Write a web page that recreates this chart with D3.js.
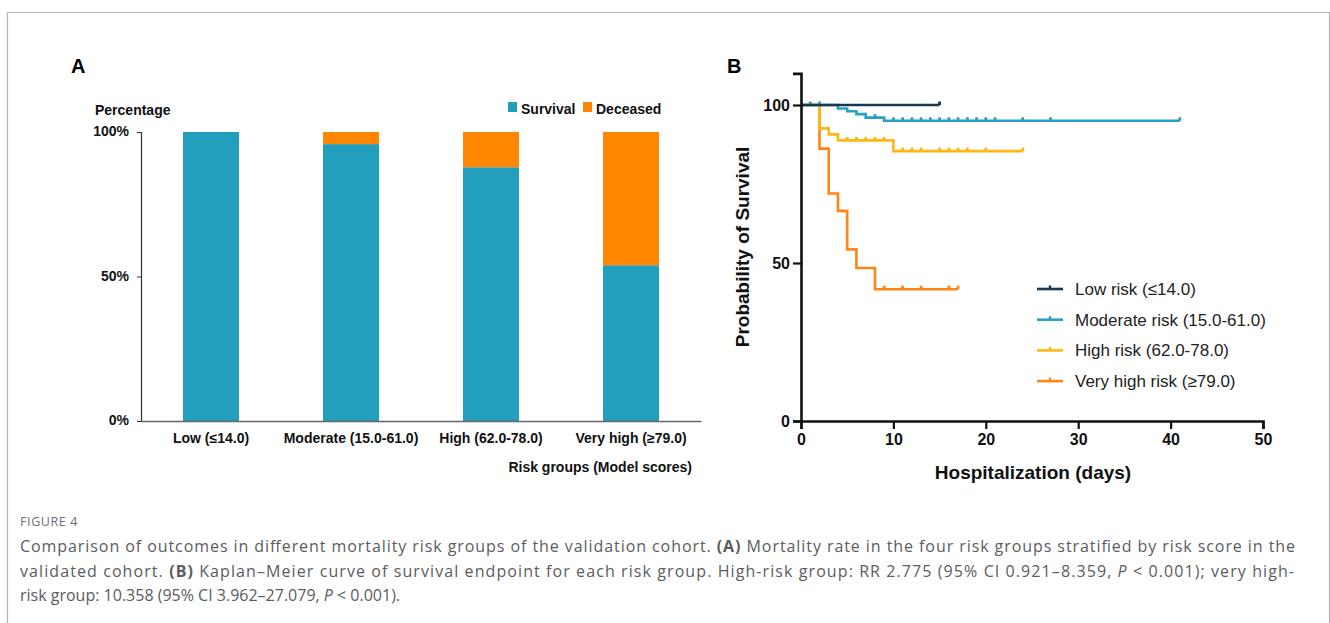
<!DOCTYPE html>
<html>
<head>
<meta charset="utf-8">
<script src="https://cdn.jsdelivr.net/npm/d3@7"></script>
<style>
  html, body { margin: 0; padding: 0; background: #fff; }
  svg { display: block; }
</style>
</head>
<body>
<svg id="fig" width="1330" height="623"></svg>
<script>
// ---- Panel A: outcome share per risk group ----
const groups = ["Low (≤14.0)", "Moderate (15.0-61.0)", "High (62.0-78.0)", "Very high (≥79.0)"];
const survivalPct = [100, 95.8, 87.8, 53.9];
const deceasedPct = [0, 4.2, 12.2, 46.1];
const percentTicks = [0, 50, 100];

// ---- Panel B: Kaplan–Meier curves ----
const kmNames = ["Low risk (≤14.0)", "Moderate risk (15.0-61.0)", "High risk (62.0-78.0)", "Very high risk (≥79.0)"];
// event days and survival after each event
const lowEventDays = [];
const lowSurv = [];
const lowCensor = [15];
const lowEnd = 15;

const modEventDays = [4, 5, 6, 7, 9];
const modSurv = [98.9, 98.0, 97.1, 96.0, 95.0];
const modCensor = [1, 2, 8, 10, 11, 12, 13, 14, 15, 16, 17, 18, 19, 20, 21, 24, 27, 41];
const modEnd = 41;

const highEventDays = [2, 3, 4, 10];
const highSurv = [92.6, 90.7, 88.8, 85.4];
const highCensor = [5, 6, 7, 8, 9, 11, 12, 13, 15, 16, 17, 18, 20, 24];
const highEnd = 24;

const vhighEventDays = [2, 3, 4, 5, 6, 8];
const vhighSurv = [86.2, 72.0, 66.5, 54.3, 48.4, 41.7];
const vhighCensor = [9, 11, 13, 16, 17];
const vhighEnd = 17;

const dayTicks = [0, 10, 20, 30, 40, 50];
const probTicks = [0, 50, 100];

const svg = d3.select("#fig");
const boldFont = "'Liberation Sans', Arial, sans-serif";

// outer frame of the figure
svg.append("path")
  .attr("d", "M7.5,640 V12.5 H1329.5 V640")
  .attr("fill", "none").attr("stroke", "#b4b4b4").attr("stroke-width", 1.2);

// ================= Panel A =================
const gA = svg.append("g").attr("font-family", boldFont).attr("font-weight", "bold");

const xA = d3.scaleBand().domain(groups).range([141, 701]).paddingInner(0.6).paddingOuter(0.3);
const yA = d3.scaleLinear().domain([0, 100]).range([421, 132]);

gA.append("text").attr("x", 71).attr("y", 73).attr("font-size", 20).attr("fill", "#000").text("A");

const barData = groups.map((g, i) => ({ g, s: survivalPct[i], d: deceasedPct[i] }));

gA.selectAll("rect.surv").data(barData).join("rect")
  .attr("class", "surv")
  .attr("x", d => xA(d.g)).attr("width", xA.bandwidth())
  .attr("y", d => yA(d.s)).attr("height", d => yA(0) - yA(d.s))
  .attr("fill", "#229fbd");

gA.selectAll("rect.dec").data(barData.filter(d => d.d > 0)).join("rect")
  .attr("class", "dec")
  .attr("x", d => xA(d.g)).attr("width", xA.bandwidth())
  .attr("y", d => yA(d.s + d.d)).attr("height", d => yA(d.s) - yA(d.s + d.d))
  .attr("fill", "#ff8600");

// y axis
const axA = gA.append("g").attr("transform", "translate(141,0)")
  .call(d3.axisLeft(yA).tickValues(percentTicks).tickFormat(d => d + "%").tickSize(4).tickPadding(8));
axA.select(".domain").attr("stroke", "#333").attr("stroke-width", 1.2);
axA.selectAll(".tick line").attr("stroke", "#333");
axA.selectAll(".tick text").attr("font-family", boldFont).attr("font-weight", "bold")
  .attr("font-size", 14).attr("fill", "#111").attr("dy", "0.25em");

// x axis
const axAx = gA.append("g").attr("transform", "translate(0,421)")
  .call(d3.axisBottom(xA).tickSize(0).tickPadding(12));
axAx.select(".domain").attr("stroke", "#666").attr("stroke-width", 1.6);
axAx.selectAll(".tick text").attr("font-family", boldFont).attr("font-weight", "bold")
  .attr("font-size", 14).attr("fill", "#111");

gA.append("text").attr("x", 95).attr("y", 115).attr("font-size", 14).attr("fill", "#111").text("Percentage");
gA.append("text").attr("x", 692).attr("y", 472).attr("text-anchor", "end")
  .attr("font-size", 14).attr("fill", "#111").text("Risk groups (Model scores)");

// legend A
const legA = [{ t: "Survival", c: "#229fbd", x: 508 }, { t: "Deceased", c: "#ff8600", x: 583 }];
legA.forEach(l => {
  gA.append("rect").attr("x", l.x).attr("y", 102).attr("width", 9).attr("height", 10).attr("fill", l.c);
  gA.append("text").attr("x", l.x + 13).attr("y", 114).attr("font-size", 14).attr("fill", "#111").text(l.t);
});

// ================= Panel B =================
const gB = svg.append("g").attr("font-family", "Arial, 'Liberation Sans', sans-serif");

const xB = d3.scaleLinear().domain([0, 50]).range([801, 1263]);
const yB = d3.scaleLinear().domain([0, 110]).range([421, 73.4]);

gB.append("text").attr("x", 727).attr("y", 73).attr("font-size", 20).attr("font-weight", "bold").text("B");

const series = [
  { name: kmNames[0], color: "#17384f", ev: lowEventDays, sv: lowSurv, cen: lowCensor, end: lowEnd },
  { name: kmNames[1], color: "#27a0c4", ev: modEventDays, sv: modSurv, cen: modCensor, end: modEnd },
  { name: kmNames[2], color: "#ffb616", ev: highEventDays, sv: highSurv, cen: highCensor, end: highEnd },
  { name: kmNames[3], color: "#ff8514", ev: vhighEventDays, sv: vhighSurv, cen: vhighCensor, end: vhighEnd }
];

function survAt(s, t) {
  let v = 100;
  s.ev.forEach((e, i) => { if (e <= t) v = s.sv[i]; });
  return v;
}

const stepLine = d3.line().x(d => xB(d[0])).y(d => yB(d[1])).curve(d3.curveStepAfter);

// draw from last to first so the low-risk curve sits on top
const drawOrder = [3, 2, 1, 0];
drawOrder.forEach(k => {
  const s = series[k];
  const pts = [[0, 100]];
  s.ev.forEach((e, i) => pts.push([e, s.sv[i]]));
  pts.push([s.end, s.sv.length ? s.sv[s.sv.length - 1] : 100]);
  const g = gB.append("g");
  g.append("path").attr("d", stepLine(pts))
    .attr("fill", "none").attr("stroke", s.color).attr("stroke-width", 2.6)
    .attr("stroke-linejoin", "miter");
  // censoring marks: short upward ticks on the curve
  g.selectAll("line.cen").data(s.cen).join("line")
    .attr("x1", d => xB(d)).attr("x2", d => xB(d))
    .attr("y1", d => yB(survAt(s, d)))
    .attr("y2", d => yB(survAt(s, d)) - 3.5)
    .attr("stroke", s.color).attr("stroke-width", 2.8);
});

// axes
const axBy = gB.append("g").attr("transform", "translate(801,0)")
  .call(d3.axisLeft(yB).tickValues(probTicks).tickSize(8).tickPadding(3));
axBy.select(".domain").attr("stroke", "#111").attr("stroke-width", 2.6);
axBy.selectAll(".tick line").attr("stroke", "#111").attr("stroke-width", 2.2);
axBy.selectAll(".tick text").attr("font-family", "Arial, 'Liberation Sans', sans-serif")
  .attr("font-weight", "bold").attr("font-size", 16).attr("fill", "#111");

const axBx = gB.append("g").attr("transform", "translate(0,421)")
  .call(d3.axisBottom(xB).tickValues(dayTicks).tickSize(8).tickPadding(5));
axBx.select(".domain").attr("stroke", "#111").attr("stroke-width", 2.6);
axBx.selectAll(".tick line").attr("stroke", "#111").attr("stroke-width", 2.2);
axBx.selectAll(".tick text").attr("font-family", "Arial, 'Liberation Sans', sans-serif")
  .attr("font-weight", "bold").attr("font-size", 16).attr("fill", "#111");

gB.append("text").attr("x", 1033).attr("y", 479).attr("text-anchor", "middle")
  .attr("font-size", 19).attr("font-weight", "bold").attr("fill", "#111").text("Hospitalization (days)");
gB.append("text").attr("transform", "translate(749,247) rotate(-90)").attr("text-anchor", "middle")
  .attr("font-size", 19).attr("font-weight", "bold").attr("fill", "#111").text("Probability of Survival");

// legend B
series.forEach((s, i) => {
  const y = 289 + i * 30.7;
  gB.append("line").attr("x1", 1037).attr("x2", 1063).attr("y1", y).attr("y2", y)
    .attr("stroke", s.color).attr("stroke-width", 2.6);
  gB.append("line").attr("x1", 1050).attr("x2", 1050).attr("y1", y).attr("y2", y - 3.5)
    .attr("stroke", s.color).attr("stroke-width", 2.4);
  gB.append("text").attr("x", 1075).attr("y", y + 6).attr("font-size", 17).attr("fill", "#222").text(s.name);
});

// ================= Caption =================
const cap = svg.append("g").attr("font-family", "'Open Sans', 'Noto Sans', sans-serif").attr("fill", "#5b5c5e");
cap.append("text").attr("x", 20).attr("y", 526).attr("font-size", 12.5).attr("letter-spacing", 0.6)
  .attr("fill", "#6d6e71").text("FIGURE 4");

const capLines = [
  [["Comparison of outcomes in different mortality risk groups of the validation cohort. ", ""], ["(A)", "b"],
   [" Mortality rate in the four risk groups stratified by risk score in the", ""]],
  [["validated cohort. ", ""], ["(B)", "b"],
   [" Kaplan\u2013Meier curve of survival endpoint for each risk group. High-risk group: RR 2.775 (95% CI 0.921\u20138.359, ", ""],
   ["P", "i"], [" < 0.001); very high-", ""]],
  [["risk group: 10.358 (95% CI 3.962\u201327.079, ", ""], ["P", "i"], [" < 0.001).", ""]]
];
const capLens = [1275, 1274, null];
capLines.forEach((parts, i) => {
  const t = cap.append("text").attr("x", 20).attr("y", 552 + i * 24.5).attr("font-size", 16);
  if (capLens[i]) t.attr("textLength", capLens[i]).attr("lengthAdjust", "spacing");
  parts.forEach(p => {
    const ts = t.append("tspan").text(p[0]);
    if (p[1] === "b") ts.attr("font-weight", "bold");
    if (p[1] === "i") ts.attr("font-style", "italic");
  });
});
</script>
</body>
</html>
